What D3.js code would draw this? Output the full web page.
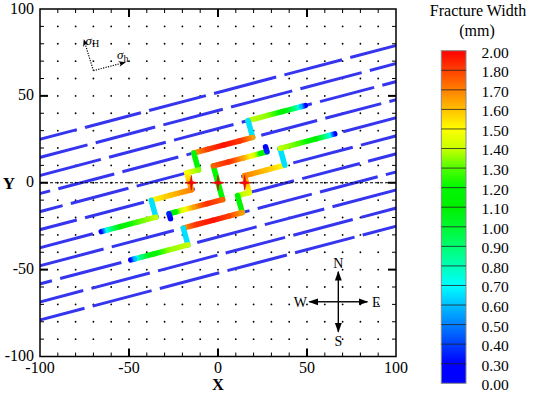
<!DOCTYPE html>
<html><head><meta charset="utf-8">
<script src="https://cdn.jsdelivr.net/npm/d3@7"></script>
<style>body{margin:0;background:#fff}text{font-family:"Liberation Serif","Times New Roman",serif;fill:#000}</style>
</head><body><svg id="c" width="533" height="393"></svg>
<script>
// ---------------- data ----------------
const xTicks = [-100, -50, 0, 50, 100];
const yTicks = [-100, -50, 0, 50, 100];
const minorStep = 10;
// natural fractures: Y = slope * X + intercept
const nfSlope = 0.27;
const nfIntercepts = [52, 41.6, 31.2, 20.8, 10.4, 0, -10.4, -20.8, -31.2, -41.6, -52];
// gaps along each natural fracture, as [fromX, toX]
const nfGaps = [
  [[-79.3,-74.7],[-43.3,-38.7],[-6.8,-2.2],[32.7,37.3],[69.7,74.3]],
  [[-73.3,-68.7],[-35.3,-30.7],[2.7,7.3],[41.7,46.3],[80.7,85.3]],
  [[-65.8,-61.2],[-29.3,-24.7],[8.7,13.3],[52.7,57.3],[87.7,92.3]],
  [[-94.3,-89.7],[-58.3,-53.7],[-22.3,-17.7],[19.7,24.3],[55.7,60.3],[91.7,96.3]],
  [[-87.3,-82.7],[-50.3,-45.7],[-11,-2.6],[28.7,33.3],[65.7,70.3]],
  [[-79.3,-74.7],[-41.6,-37],[-13,13],[37.7,42.3],[75.7,80.3]],
  [[-70.3,-65.7],[-33.3,-28.7],[2.6,11],[42.7,47.3],[79.7,84.3]],
  [[-64.3,-59.7],[-24.8,-20.2],[17.7,22.3],[52.7,57.3],[89.7,94.3]],
  [[-93.3,-88.7],[-54.3,-49.7],[-16.3,-11.7],[21.7,26.3],[59.7,64.3]],
  [[-75.7,-71.1],[-38.3,-33.7],[-0.3,4.3],[37.7,42.3],[75.7,80.3]],
  [[-75,-70.4],[-37.3,-32.7],[0.7,5.3],[38.7,43.3],[76.7,81.3]]
];
// hydraulic fractures: polylines of [X, Y, width(mm)]
const hfPaths = [
  [[16.9,35.76,1.40],[28,38.76,1.35],[36,40.92,1.15],[43,42.81,0.9],[47,43.89,0.6],[49,44.43,0.3]],
  [[19.5,26.07,0.65],[16.9,35.76,0.65]],
  [[-13.6,17.13,1.65],[-6,19.18,1.8],[3,21.61,1.95],[12,24.04,1.85],[19.5,26.07,1.65]],
  [[-11,7.43,1.15],[-13.6,17.13,1.2]],
  [[-17.52,5.67,1.45],[-11,7.43,1.35]],
  [[-17.52,5.67,1.5],[-14.9,-4.02,1.7]],
  [[-14.9,-4.02,1.7],[-27,-7.29,1.6],[-37.5,-10.13,1.5]],
  [[-37.5,-10.13,0.65],[-34.88,-19.82,0.65]],
  [[-34.88,-19.82,1.4],[-45,-22.55,1.3],[-55,-25.25,1.1],[-62,-27.14,0.8],[-65.6,-28.11,0.3]],
  [[-2.62,9.69,1.2],[2.62,-9.69,1.2]],
  [[-2.62,9.69,1.75],[6,12.02,1.85],[14,14.18,1.65],[20,15.8,1.45],[24,16.88,1.2],[27.5,17.83,0.9]],
  [[27.5,17.83,0.35],[26.7,20.7,0.3]],
  [[2.62,-9.69,1.75],[-6,-12.02,1.85],[-14,-14.18,1.65],[-20,-15.8,1.45],[-24,-16.88,1.2],[-27.5,-17.83,0.9]],
  [[-27.5,-17.83,0.35],[-26.7,-20.7,0.3]],
  [[14.9,4.02,1.7],[17.52,-5.67,1.5]],
  [[14.9,4.02,1.7],[27,7.29,1.6],[37.5,10.13,1.5]],
  [[37.5,10.13,0.65],[34.88,19.82,0.65]],
  [[34.88,19.82,1.4],[45,22.55,1.3],[55,25.25,1.1],[62,27.14,0.8],[65.6,28.11,0.3]],
  [[17.52,-5.67,1.45],[11,-7.43,1.35]],
  [[11,-7.43,1.15],[13.6,-17.13,1.2]],
  [[13.6,-17.13,1.65],[6,-19.18,1.8],[-3,-21.61,1.95],[-12,-24.04,1.85],[-19.5,-26.07,1.65]],
  [[-19.5,-26.07,0.65],[-16.9,-35.76,0.65]],
  [[-16.9,-35.76,1.4],[-28,-38.76,1.35],[-36,-40.92,1.15],[-43,-42.81,0.9],[-47,-43.89,0.6],[-49,-44.43,0.3]]
];
const perforations = [[-15, 0], [0, 0], [15, 0]];
// stress direction glyph (data coords): origin, sigma_H tip, sigma_h tip
const stressOrigin = [-70, 64.5];
const stressTips = [[-75.3, 82.2], [-52.2, 69.3]];
const stressLabels = [["σ","H"],["σ","h"]];
// compass (data coords of centre)
const compassCentre = [67.6, -68.5];
const compass = [["N",0,1],["S",0,-1],["W",-1,0],["E",1,0]];
// colour legend
const levels = [0.00,0.30,0.40,0.50,0.60,0.70,0.80,0.90,1.00,1.10,1.20,1.30,1.40,1.50,1.60,1.70,1.80,2.00];
const levelColors = ["#0000ff","#0000ff","#0040ff","#0080ff","#00c0ff","#00ffff","#00ffb4","#00ff70","#00f830","#00f000","#00f800","#50ff00","#c8ff00","#ffff00","#ffc000","#ff8000","#ff4000","#ff0000"];
const legendTitle = ["Fracture Width", "(mm)"];

// ---------------- drawing ----------------
const svg = d3.select("#c");
const x = d3.scaleLinear().domain([-100, 100]).range([40, 396]);
const y = d3.scaleLinear().domain([-100, 100]).range([356.5, 9]);
const cmap = d3.scaleLinear().domain(levels).range(levelColors).interpolate(d3.interpolateRgb).clamp(true);
const defs = svg.append("defs");
defs.append("clipPath").attr("id","plotclip").append("rect")
  .attr("x",40).attr("y",9).attr("width",356).attr("height",347.5);

// grid dots
const dotG = svg.append("g");
const grid = d3.range(-90, 91, minorStep);
grid.forEach(gx => grid.forEach(gy => {
  dotG.append("circle").attr("cx", x(gx)).attr("cy", y(gy)).attr("r", 0.9).attr("fill", "#000");
}));

// natural fractures
const nfG = svg.append("g").attr("clip-path","url(#plotclip)");
nfIntercepts.forEach((b, i) => {
  let start = -101;
  const bounds = [];
  nfGaps[i].forEach(([g0, g1]) => { bounds.push([start, g0]); start = g1; });
  bounds.push([start, 101]);
  bounds.forEach(([a, c]) => {
    nfG.append("line")
      .attr("x1", x(a)).attr("y1", y(nfSlope * a + b))
      .attr("x2", x(c)).attr("y2", y(nfSlope * c + b))
      .attr("stroke", "#3535f0").attr("stroke-width", 3);
  });
});

// dashed line y = 0
svg.append("line").attr("x1", x(-100)).attr("x2", x(100)).attr("y1", y(0)).attr("y2", y(0))
  .attr("stroke", "#000").attr("stroke-width", 1).attr("stroke-dasharray", "3,2");

// hydraulic fractures
const hfG = svg.append("g");
let gid = 0;
hfPaths.forEach(path => {
  for (let i = 0; i < path.length - 1; i++) {
    const [xa, ya, wa] = path[i], [xb, yb, wb] = path[i + 1];
    const id = "g" + (gid++);
    const lg = defs.append("linearGradient").attr("id", id).attr("gradientUnits", "userSpaceOnUse")
      .attr("x1", x(xa)).attr("y1", y(ya)).attr("x2", x(xb)).attr("y2", y(yb));
    d3.range(0, 1.0001, 0.1).forEach(t => {
      lg.append("stop").attr("offset", t).attr("stop-color", cmap(wa + (wb - wa) * t));
    });
    hfG.append("line").attr("x1", x(xa)).attr("y1", y(ya)).attr("x2", x(xb)).attr("y2", y(yb))
      .attr("stroke", `url(#${id})`).attr("stroke-width", 5.5).attr("stroke-linecap", "round");
  }
});

// perforation stars
const starPath = (() => {
  const pts = [];
  for (let k = 0; k < 8; k++) {
    const r = k % 2 === 0 ? 7.5 : 1.8;
    const a = k * Math.PI / 4 - Math.PI / 2;
    pts.push([r * Math.cos(a) * 0.85, r * Math.sin(a)]);
  }
  return "M" + pts.map(p => p.join(",")).join("L") + "Z";
})();
perforations.forEach(([px, py]) => {
  svg.append("path").attr("d", starPath).attr("transform", `translate(${x(px)},${y(py)})`)
    .attr("fill", "#ff0000").attr("stroke", "#c00000").attr("stroke-width", 0.5);
});

// frame and ticks
svg.append("rect").attr("x", 40).attr("y", 9).attr("width", 356).attr("height", 347.5)
  .attr("fill", "none").attr("stroke", "#000").attr("stroke-width", 1.5);
const minor = d3.range(-90, 91, minorStep);
const tg = svg.append("g").attr("stroke", "#000");
minor.forEach(v => {
  const major = xTicks.includes(v);
  const L = major ? 8 : 4, w = major ? 2 : 1;
  tg.append("line").attr("x1", x(v)).attr("x2", x(v)).attr("y1", 356.5).attr("y2", 356.5 - L).attr("stroke-width", w);
  tg.append("line").attr("x1", x(v)).attr("x2", x(v)).attr("y1", 9).attr("y2", 9 + L).attr("stroke-width", w);
  tg.append("line").attr("y1", y(v)).attr("y2", y(v)).attr("x1", 40).attr("x2", 40 + L).attr("stroke-width", w);
  tg.append("line").attr("y1", y(v)).attr("y2", y(v)).attr("x1", 396).attr("x2", 396 - L).attr("stroke-width", w);
});
xTicks.forEach(v => {
  svg.append("text").attr("x", x(v)).attr("y", 373).attr("text-anchor", "middle")
    .attr("font-size", 16).text(v);
});
yTicks.forEach(v => {
  svg.append("text").attr("x", 34).attr("y", y(v) + 4.5).attr("text-anchor", "end")
    .attr("font-size", 16).text(v);
});
svg.append("text").attr("x", 218).attr("y", 389.5).attr("text-anchor", "middle")
  .attr("font-size", 16.5).attr("font-weight", "bold").text("X");
svg.append("text").attr("x", 9).attr("y", 189).attr("text-anchor", "middle")
  .attr("font-size", 17).attr("font-weight", "bold").text("Y");

// arrow markers
defs.append("marker").attr("id", "ah").attr("viewBox", "0 0 10 10").attr("refX", 9).attr("refY", 5)
  .attr("markerWidth", 7).attr("markerHeight", 7).attr("orient", "auto")
  .append("path").attr("d", "M0,1.5L10,5L0,8.5Z").attr("fill", "#000");
defs.append("marker").attr("id", "ah2").attr("viewBox", "0 0 10 10").attr("refX", 9).attr("refY", 5)
  .attr("markerWidth", 6).attr("markerHeight", 6).attr("orient", "auto")
  .append("path").attr("d", "M0,1L10,5L0,9L3,5Z").attr("fill", "#000");

// stress directions (dotted)
const so = [x(stressOrigin[0]), y(stressOrigin[1])];
const tips = stressTips.map(p => [x(p[0]), y(p[1])]);
tips.forEach(p => {
  svg.append("line").attr("x1", so[0]).attr("y1", so[1]).attr("x2", p[0]).attr("y2", p[1])
    .attr("stroke", "#000").attr("stroke-width", 1.2).attr("stroke-dasharray", "1.2,1.3")
    .attr("marker-end", "url(#ah2)");
});
const t1 = svg.append("text").attr("x", tips[0][0] + 1.5).attr("y", tips[0][1] + 5).attr("font-size", 13).attr("font-style", "italic");
t1.append("tspan").text(stressLabels[0][0]);
t1.append("tspan").attr("dy", 2.5).attr("font-size", 10).attr("font-style", "normal").text(stressLabels[0][1]);
const t2 = svg.append("text").attr("x", tips[1][0] - 8).attr("y", tips[1][1] - 3).attr("font-size", 13).attr("font-style", "italic");
t2.append("tspan").text(stressLabels[1][0]);
t2.append("tspan").attr("dy", 2.5).attr("font-size", 10).attr("font-style", "normal").text(stressLabels[1][1]);

// compass
const cx = x(compassCentre[0]), cy = y(compassCentre[1]), armV = 30, armH = 29;
compass.forEach(([lab, dx, dy]) => {
  const L = dx ? armH : armV;
  svg.append("line").attr("x1", cx).attr("y1", cy).attr("x2", cx + dx * L).attr("y2", cy - dy * L)
    .attr("stroke", "#000").attr("stroke-width", 1.4).attr("marker-end", "url(#ah)");
  const lx = cx + dx * (L + 9), ly = cy - dy * (L + 9);
  svg.append("text").attr("x", lx).attr("y", ly).attr("dy", "0.35em").attr("text-anchor", "middle")
    .attr("font-size", 14).text(lab);
});

// colour legend
const barX = 441.3, barW = 24.7, barTop = 50.7, barBot = 383.3;
const nb = levels.length - 1;
const by = d3.scaleLinear().domain([0, nb]).range([barBot, barTop]);
const lgb = defs.append("linearGradient").attr("id", "cbar").attr("x1", 0).attr("y1", 1).attr("x2", 0).attr("y2", 0);
levels.forEach((v, i) => lgb.append("stop").attr("offset", i / nb).attr("stop-color", levelColors[i]));
svg.append("rect").attr("x", barX).attr("y", barTop).attr("width", barW).attr("height", barBot - barTop)
  .attr("fill", "url(#cbar)").attr("stroke", "#888").attr("stroke-width", 1);
levels.forEach((v, i) => {
  if (i > 0 && i < nb) {
    svg.append("line").attr("x1", barX).attr("x2", barX + barW).attr("y1", by(i)).attr("y2", by(i))
      .attr("stroke", "#222").attr("stroke-width", 0.8);
  }
  svg.append("text").attr("x", 481.5).attr("y", by(i) + 1.5).attr("dy", "0.35em")
    .attr("font-size", 15.5).text(v.toFixed(2));
});
svg.append("text").attr("x", 478).attr("y", 16).attr("text-anchor", "middle").attr("font-size", 16).text(legendTitle[0]);
svg.append("text").attr("x", 477).attr("y", 36).attr("text-anchor", "middle").attr("font-size", 16).text(legendTitle[1]);
</script></body></html>
